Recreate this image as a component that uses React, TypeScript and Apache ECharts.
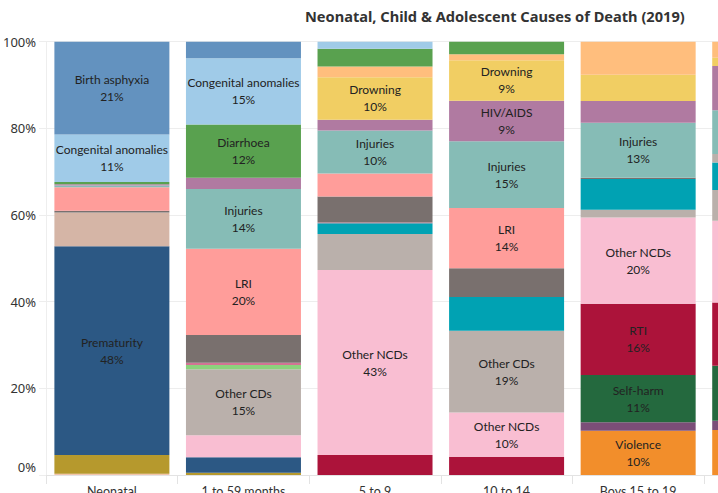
import React, { useEffect, useRef } from "react";
import * as echarts from "echarts";

const categories = ["Neonatal", "1 to 59 months", "5 to 9", "10 to 14", "Boys 15 to 19", "Girls 15 to 19"];
const yTicks = [0, 20, 40, 60, 80, 100];

// stacking order: bottom -> top; values per category (% of deaths)
const violence = [0, 0, 0, 0, 10.2, 10.4];
const conflict = [0, 0, 0, 0, 2.0, 2.1];
const selfHarm = [0, 0, 0, 0, 10.9, 12.7];
const tetanus = [0.3, 0, 0, 0, 0, 0];
const otherNeonatal = [4.3, 0.5, 0, 0, 0, 0];
const prematurity = [48.2, 3.6, 0, 0, 0, 0];
const rti = [0, 0, 4.6, 4.2, 16.4, 14.6];
const otherNCDs = [0, 5.1, 42.7, 10.2, 19.9, 18.9];
const sepsis = [7.8, 0, 0, 0, 0, 0];
const otherCDs = [0, 15.2, 8.3, 18.9, 1.8, 7.1];
const measles = [0, 1.0, 0, 0, 0, 0];
const meningitis = [0, 0, 2.5, 7.8, 7.1, 6.3];
const maternal = [0, 0, 0, 0, 0, 2.0];
const pertussis = [0, 0.5, 0.2, 0, 0, 0];
const malaria = [0.4, 6.4, 6.0, 6.6, 0.3, 0];
const lri = [5.4, 19.9, 5.3, 13.9, 0, 0];
const injuries = [0.4, 13.8, 9.9, 15.4, 12.7, 10.1];
const hiv = [0.3, 2.6, 2.5, 9.4, 5.0, 10.2];
const drowning = [0, 0, 9.8, 9.3, 6.1, 1.9];
const tuberculosis = [0, 0, 2.5, 1.4, 7.6, 3.7];
const diarrhoea = [0.5, 12.3, 4.1, 2.9, 0, 0];
const congenital = [11.0, 15.3, 1.6, 0, 0, 0];
const birthAsphyxia = [21.4, 3.8, 0, 0, 0, 0];

const seriesDefs: { name: string; data: number[]; color: string; labelled: number[] }[] = [
  { name: "Violence", data: violence, color: "#f28e2b", labelled: [4] },
  { name: "Conflict", data: conflict, color: "#7b4e78", labelled: [] },
  { name: "Self-harm", data: selfHarm, color: "#24693e", labelled: [4] },
  { name: "Tetanus", data: tetanus, color: "#f3c4ab", labelled: [] },
  { name: "Other neonatal", data: otherNeonatal, color: "#b6992d", labelled: [] },
  { name: "Prematurity", data: prematurity, color: "#2c5884", labelled: [0] },
  { name: "RTI", data: rti, color: "#ac133a", labelled: [4] },
  { name: "Other NCDs", data: otherNCDs, color: "#f9bed2", labelled: [2, 3, 4] },
  { name: "Sepsis", data: sepsis, color: "#d5b5a6", labelled: [] },
  { name: "Other CDs", data: otherCDs, color: "#bab0ab", labelled: [1, 3] },
  { name: "Measles", data: measles, color: "#8cd17d", labelled: [] },
  { name: "Meningitis", data: meningitis, color: "#00a2b3", labelled: [] },
  { name: "Maternal conditions", data: maternal, color: "#bab0ab", labelled: [] },
  { name: "Pertussis", data: pertussis, color: "#d37295", labelled: [] },
  { name: "Malaria", data: malaria, color: "#79706e", labelled: [] },
  { name: "LRI", data: lri, color: "#ff9d9a", labelled: [1, 3] },
  { name: "Injuries", data: injuries, color: "#86bcb6", labelled: [1, 2, 3, 4] },
  { name: "HIV/AIDS", data: hiv, color: "#b07aa1", labelled: [3] },
  { name: "Drowning", data: drowning, color: "#f1ce63", labelled: [2, 3] },
  { name: "Tuberculosis", data: tuberculosis, color: "#ffbe7d", labelled: [] },
  { name: "Diarrhoea", data: diarrhoea, color: "#59a14f", labelled: [1] },
  { name: "Congenital anomalies", data: congenital, color: "#a0cbe8", labelled: [0, 1] },
  { name: "Birth asphyxia", data: birthAsphyxia, color: "#6392bf", labelled: [0] },
];

const FONT = "Lato";
const AXFONT = "Noto Sans";

export default function App() {
  const ref = useRef<HTMLDivElement>(null);
  useEffect(() => {
    if (!ref.current) return;
    const chart = echarts.init(ref.current, null, { renderer: "svg" });
    chart.setOption({
      animation: false,
      textStyle: { fontFamily: FONT },
      graphic: [
        {
          type: "text",
          left: 305,
          top: 8,
          style: {
            text: "Neonatal, Child & Adolescent Causes of Death (2019)",
            font: `bold 14.6px "Noto Sans"`,
            fill: "#333333",
          },
        },
      ],
      grid: { left: 43.5, top: 41.7, width: 792, height: 433.3 },
      xAxis: {
        type: "category",
        data: categories,
        axisLine: { show: true, lineStyle: { color: "#e3e3e3" } },
        axisTick: { show: true, length: 9, lineStyle: { color: "#e3e3e3" } },
        axisLabel: { color: "#333", fontSize: 12.5, margin: 10, fontFamily: FONT },
      },
      yAxis: {
        type: "value",
        min: 0,
        max: 100,
        interval: 20,
        axisLine: { show: true, lineStyle: { color: "#eeeeee" } },
        axisTick: { show: true, length: 7, lineStyle: { color: "#ededed" } },
        splitLine: { show: true, lineStyle: { color: "#ededed" } },
        axisLabel: {
          color: "#333",
          fontSize: 13,
          margin: 10,
          fontFamily: AXFONT,
          formatter: (v: number) => (v === 0 ? "{z|0%}" : `${v}%`),
          rich: { z: { fontSize: 13, color: "#333", fontFamily: AXFONT, padding: [0, 0, 16, 0] } },
        },
      },
      series: seriesDefs.map((s) => ({
        name: s.name,
        type: "bar",
        stack: "total",
        barWidth: 115,
        itemStyle: { color: s.color },
        data: s.data.map((v, i) => ({
          value: v,
          label: { show: s.labelled.includes(i) },
        })),
        label: {
          show: false,
          position: "inside",
          color: "#222",
          fontSize: 12,
          lineHeight: 17,
          fontFamily: FONT,
          formatter: (p: any) => `${p.seriesName}\n${Math.round(p.value)}%`,
        },
      })),
    });
    return () => chart.dispose();
  }, []);
  return (
    <div style={{ position: "fixed", left: 0, top: 0, width: 718, height: 493, overflow: "hidden", background: "#fff" }}>
      <div ref={ref} style={{ width: 900, height: 520 }} />
    </div>
  );
}
